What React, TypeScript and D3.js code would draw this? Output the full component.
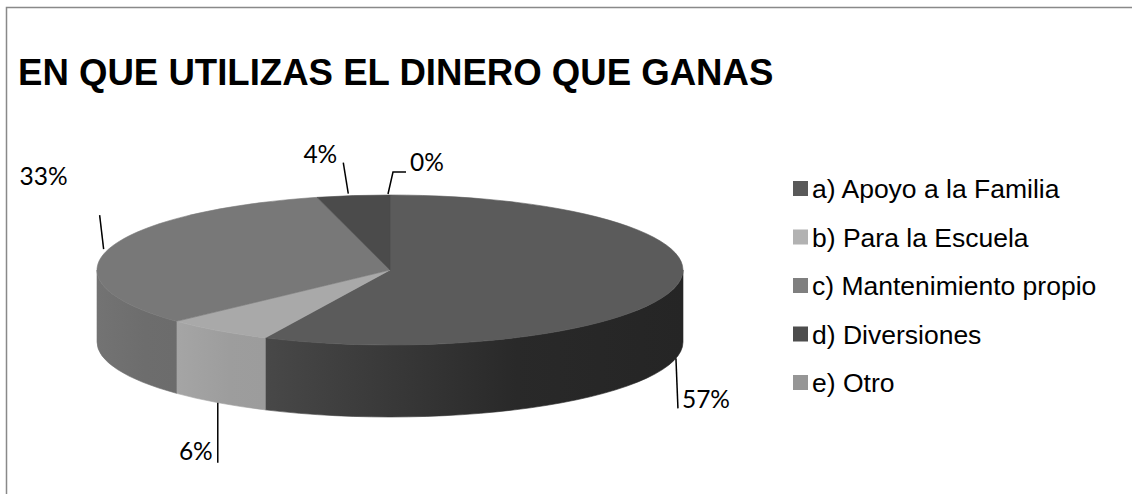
import React from "react";
import * as d3 from "d3";

const title = "EN QUE UTILIZAS EL DINERO QUE GANAS";
const categories = [
  "a) Apoyo a la Familia",
  "b) Para la Escuela",
  "c) Mantenimiento propio",
  "d) Diversiones",
  "e) Otro",
];
const values = [57, 6, 33, 4, 0];
const percentLabels = ["57%", "6%", "33%", "4%", "0%"];

const topColors = ["#5b5b5b", "#a9a9a9", "#787878", "#4b4b4b", "#969696"];
const sideFrom = ["#484848", "#a5a5a5", "#737373", "#454545", "#8e8e8e"];
const sideTo = ["#252525", "#9c9c9c", "#6c6c6c", "#3c3c3c", "#8a8a8a"];
const legendColors = ["#595959", "#b2b2b2", "#7f7f7f", "#4d4d4d", "#969696"];

// label layout relative to the anchor point (leader path points, text pos, anchor)
const labelLayout = [
  { leader: [[0, 0], [2, 50]], tx: 6, ty: 50, anchor: "start" },
  { leader: [[0, 0], [0, 60]], tx: -5, ty: 57, anchor: "end" },
  { leader: [[-5, 0], [-9, -34]], tx: -41, ty: -64, anchor: "end" },
  { leader: [[-5, -2], [-10, -33]], tx: -16, ty: -33, anchor: "end" },
  { leader: [[-2, -1], [3, -23], [16, -23]], tx: 20, ty: -24, anchor: "start" },
];

const W = 1132;
const H = 494;
const cx = 390;
const cy = 270;
const rx = 293;
const ry = 75;
const depth = 72;

function pt(theta: number, dy = 0): [number, number] {
  return [cx + rx * Math.sin(theta), cy - ry * Math.cos(theta) + dy];
}

export default function App() {
  const pie = d3.pie<number>().sort(null).value((d) => d);
  const arcs = pie(values);

  const topPath = (a0: number, a1: number) => {
    if (a1 - a0 < 1e-6) return "";
    const p0 = pt(a0);
    const p1 = pt(a1);
    const large = a1 - a0 > Math.PI ? 1 : 0;
    return `M${cx},${cy}L${p0[0]},${p0[1]}A${rx},${ry} 0 ${large} 1 ${p1[0]},${p1[1]}Z`;
  };

  const sidePath = (a0: number, a1: number) => {
    const s = Math.max(a0, Math.PI / 2);
    const e = Math.min(a1, (3 * Math.PI) / 2);
    if (e - s < 1e-6) return null;
    const p0 = pt(s);
    const p1 = pt(e);
    const q1 = pt(e, depth);
    const q0 = pt(s, depth);
    return {
      d: `M${p0[0]},${p0[1]}A${rx},${ry} 0 0 1 ${p1[0]},${p1[1]}L${q1[0]},${q1[1]}A${rx},${ry} 0 0 0 ${q0[0]},${q0[1]}Z`,
      x0: Math.min(p0[0], p1[0]),
      x1: Math.max(p0[0], p1[0]),
    };
  };

  const legendX = 793;
  const legendY = d3.range(categories.length).map((i) => 181 + i * 48.5);

  return (
    <svg
      width={W}
      height={H}
      style={{ position: "absolute", left: 0, top: 0, background: "#fff" }}
    >
      <defs>
        {arcs.map((a, i) => {
          const s = sidePath(a.startAngle, a.endAngle);
          if (!s) return null;
          return (
            <linearGradient
              key={i}
              id={`side${i}`}
              gradientUnits="userSpaceOnUse"
              x1={s.x0}
              x2={s.x1}
              y1={0}
              y2={0}
            >
              <stop offset="0" stopColor={sideFrom[i]} />
              <stop offset="0.6" stopColor={d3.interpolateRgb(sideFrom[i], sideTo[i])(0.9)} />
              <stop offset="1" stopColor={sideTo[i]} />
            </linearGradient>
          );
        })}
      </defs>
      <rect x={0} y={0} width={W} height={H} fill="#fff" />
      <rect
        x={6.5}
        y={7.5}
        width={W + 20}
        height={H + 20}
        fill="none"
        stroke="#898989"
        strokeWidth={1.5}
      />
      <text
        x={18}
        y={85}
        fontFamily="'Liberation Sans', Arial, sans-serif"
        fontWeight="bold"
        fontSize={36.6}
        fill="#000"
      >
        {title}
      </text>

      {/* side walls */}
      {arcs.map((a, i) => {
        const s = sidePath(a.startAngle, a.endAngle);
        if (!s) return null;
        return <path key={`s${i}`} d={s.d} fill={`url(#side${i})`} stroke={`url(#side${i})`} strokeWidth={0.6} />;
      })}
      {/* top faces */}
      {arcs.map((a, i) => {
        const d = topPath(a.startAngle, a.endAngle);
        if (!d) return null;
        return <path key={`t${i}`} d={d} fill={topColors[i]} stroke={topColors[i]} strokeWidth={0.6} />;
      })}

      {/* labels */}
      {arcs.map((a, i) => {
        const mid = (a.startAngle + a.endAngle) / 2;
        const front = Math.cos(mid) < 0;
        const [ax, ay] = pt(mid, front ? depth : 0);
        const L = labelLayout[i];
        const line = d3.line()(L.leader.map(([dx, dy]) => [ax + dx, ay + dy] as [number, number]));
        return (
          <g key={`l${i}`}>
            <path d={line || ""} fill="none" stroke="#000" strokeWidth={1.5} />
            <text
              x={ax + L.tx}
              y={ay + L.ty}
              textAnchor={L.anchor as any}
              fontFamily="Lato, 'Open Sans', sans-serif"
              fontSize={24.5}
              fill="#000"
            >
              {percentLabels[i]}
            </text>
          </g>
        );
      })}

      {/* legend */}
      {categories.map((c, i) => (
        <g key={`lg${i}`}>
          <rect x={legendX} y={legendY[i]} width={15} height={15} fill={legendColors[i]} />
          <text
            x={legendX + 19}
            y={legendY[i] + 7.5}
            dy="0.36em"
            fontFamily="'Liberation Sans', Arial, sans-serif"
            fontSize={26.5}
            fill="#000"
          >
            {c}
          </text>
        </g>
      ))}
    </svg>
  );
}
